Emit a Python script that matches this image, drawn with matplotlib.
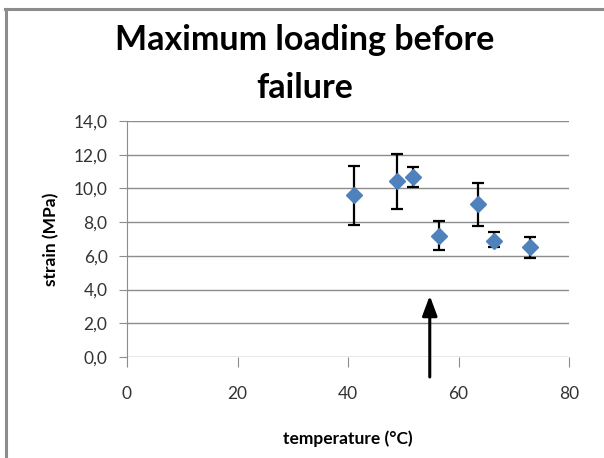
import matplotlib
matplotlib.use("Agg")
import matplotlib.pyplot as plt
from matplotlib.lines import Line2D

# Data
temperature = [41.1, 48.8, 51.7, 56.5, 63.6, 66.5, 72.9]
strain = [9.6, 10.45, 10.7, 7.2, 9.1, 6.9, 6.55]
err_upper = [11.35, 12.05, 11.3, 8.05, 10.3, 7.4, 7.1]
err_lower = [7.85, 8.8, 10.1, 6.35, 7.8, 6.5, 5.9]
x_ticks = [0, 20, 40, 60, 80]
y_ticks = [0.0, 2.0, 4.0, 6.0, 8.0, 10.0, 12.0, 14.0]
arrow_x = 54.8
arrow_tip_y = 3.8
arrow_base_y = -1.35

plt.rcParams['font.family'] = ['Lato', 'DejaVu Sans']

fig = plt.figure(figsize=(6.04, 4.58), dpi=100)
ax = fig.add_axes([127/604, 1-357/458, (569-127)/604, (357-121)/458])

yerr = [[s - l for s, l in zip(strain, err_lower)],
        [u - s for s, u in zip(strain, err_upper)]]
ax.errorbar(temperature, strain, yerr=yerr, fmt='D', color='#4F81BD',
            ms=8, ecolor='black', elinewidth=1.6, capsize=4, capthick=1.6,
            markeredgecolor='#4F81BD', zorder=3)

ax.set_xlim(0, 80)
ax.set_ylim(0, 14)
ax.set_xticks(x_ticks)
ax.set_yticks(y_ticks)
ax.set_yticklabels([f"{v:.1f}".replace('.', ',') for v in y_ticks])
ax.yaxis.grid(True, color='#8c8c8c', linewidth=1.0)
ax.set_axisbelow(True)
for s in ['top', 'right', 'bottom']:
    ax.spines[s].set_visible(False)
ax.spines['left'].set_color('#8c8c8c')
ax.tick_params(axis='both', colors='#8c8c8c', labelcolor='#333333',
               labelsize=12.5)
ax.tick_params(axis='y', length=6, pad=8)
ax.tick_params(axis='x', length=7, pad=14)

ax.set_xlabel('temperature (°C)', fontsize=12.5, fontweight='bold', labelpad=20)
ax.set_ylabel('strain (MPa)', fontsize=12.5, fontweight='bold', labelpad=10)

ax.annotate('', xy=(arrow_x, arrow_tip_y), xytext=(arrow_x, arrow_base_y),
            arrowprops=dict(arrowstyle='-|>,head_length=1.2,head_width=0.45',
                            color='black', lw=2.2),
            annotation_clip=False)

fig.text(0.505, 1-40/458, 'Maximum loading before', ha='center', va='center',
         fontsize=24.5, fontweight='bold')
fig.text(0.505, 1-88/458, 'failure', ha='center', va='center',
         fontsize=24.5, fontweight='bold')

fig.add_artist(Line2D([6/604, 6/604], [0, 1-9/458], transform=fig.transFigure,
                      color='#8c8c8c', lw=2.2))
fig.add_artist(Line2D([5/604, 1], [1-9/458, 1-9/458], transform=fig.transFigure,
                      color='#8c8c8c', lw=2.2))

fig.savefig('out.png', dpi=100)
